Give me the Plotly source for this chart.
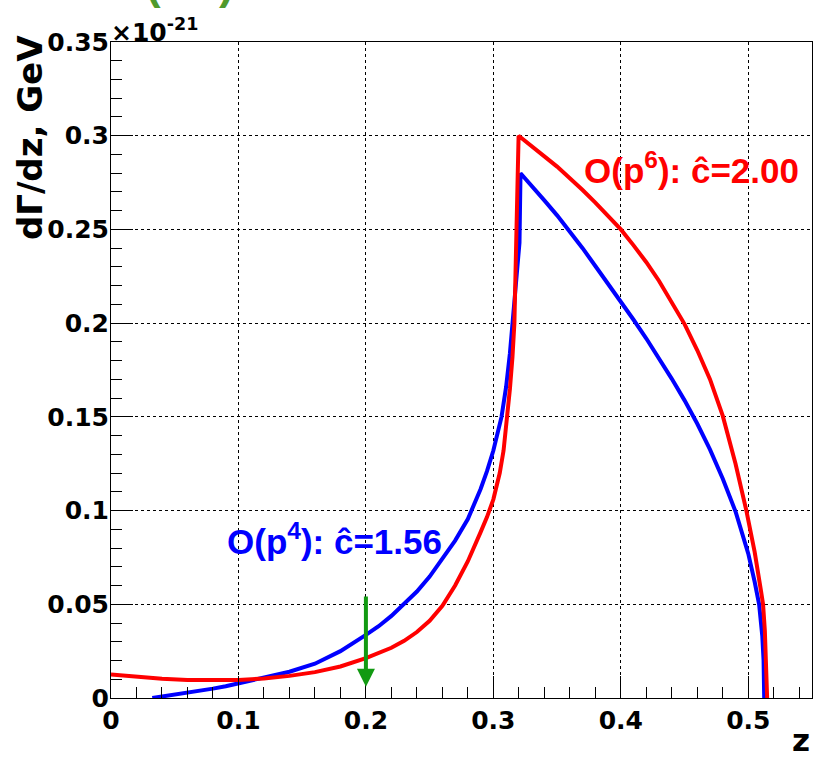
import plotly.graph_objects as go

# ---- data (y in units of 1e-21 GeV) ----
z_p4 = [0.0324, 0.04, 0.05, 0.06, 0.07, 0.08, 0.09, 0.10, 0.12, 0.14, 0.16, 0.18,
        0.20, 0.21, 0.22, 0.23, 0.24, 0.25, 0.26, 0.27, 0.28, 0.29, 0.295, 0.30,
        0.3064, 0.31, 0.313, 0.315, 0.3176, 0.3205, 0.3213,
        0.33, 0.34, 0.35, 0.36, 0.37, 0.38, 0.39, 0.40, 0.41, 0.42, 0.43, 0.44,
        0.45, 0.46, 0.47, 0.48, 0.49, 0.495, 0.50, 0.505, 0.5085, 0.511, 0.512,
        0.5125]
g_p4 = [0.0, 0.0008, 0.0016, 0.0026, 0.0037, 0.005, 0.0063, 0.0078, 0.0105, 0.014,
        0.0183, 0.025, 0.0337, 0.0383, 0.0438, 0.0502, 0.0568, 0.0648, 0.0742,
        0.0840, 0.0955, 0.1115, 0.121, 0.132, 0.150, 0.166, 0.184, 0.200, 0.223,
        0.243, 0.280,
        0.2735, 0.2655, 0.2575, 0.249, 0.2400, 0.2305, 0.2212, 0.2115, 0.2018,
        0.1918, 0.1813, 0.1703, 0.1588, 0.1463, 0.1325, 0.117, 0.0995, 0.089,
        0.077, 0.062, 0.050, 0.033, 0.020, 0.0]

z_p6 = [0.0, 0.02, 0.04, 0.06, 0.08, 0.10, 0.12, 0.14, 0.16, 0.18, 0.20, 0.21,
        0.22, 0.23, 0.24, 0.25, 0.26, 0.27, 0.28, 0.29, 0.295, 0.30, 0.305,
        0.308, 0.311, 0.313, 0.315, 0.3165, 0.3198,
        0.325, 0.33, 0.34, 0.35, 0.36, 0.37, 0.38, 0.39, 0.40, 0.41, 0.42, 0.43,
        0.44, 0.45, 0.46, 0.47, 0.48, 0.49, 0.4985, 0.505, 0.51, 0.5116, 0.513,
        0.514, 0.5148]
g_p6 = [0.0125, 0.0113, 0.0103, 0.0096, 0.0094, 0.0096, 0.0104, 0.0118, 0.0138,
        0.0168, 0.0213, 0.0238, 0.0268, 0.0305, 0.0352, 0.0412, 0.0492, 0.0600,
        0.0730, 0.0885, 0.0965, 0.1060, 0.1200, 0.132, 0.150, 0.165, 0.182, 0.200,
        0.300,
        0.297, 0.2945, 0.289, 0.2835, 0.2775, 0.271, 0.2643, 0.2573, 0.250,
        0.2415, 0.2325, 0.2225, 0.2115, 0.1995, 0.1855, 0.170, 0.1505, 0.125,
        0.100, 0.078, 0.057, 0.050, 0.036, 0.022, 0.0]

x_ticks = [0, 0.1, 0.2, 0.3, 0.4, 0.5]
x_ticktext = ["0", "0.1", "0.2", "0.3", "0.4", "0.5"]
y_ticks = [0, 0.05, 0.1, 0.15, 0.2, 0.25, 0.3, 0.35]
y_ticktext = ["0", "0.05", "0.1", "0.15", "0.2", "0.25", "0.3", "0.35"]

label_p4 = "O(p<sup>4</sup>): \u0109=1.56"
label_p6 = "O(p<sup>6</sup>): \u0109=2.00"
arrow_z = 0.2
arrow_from = 0.055
arrow_to = 0.006

fig = go.Figure()
fig.add_trace(go.Scatter(x=z_p4, y=g_p4, mode="lines",
                         line=dict(color="#0000ff", width=4), showlegend=False))
fig.add_trace(go.Scatter(x=z_p6, y=g_p6, mode="lines",
                         line=dict(color="#ff0000", width=4), showlegend=False))

tickfont = dict(family="DejaVu Sans", size=25, color="black", weight="bold")
axis_common = dict(showline=True, linecolor="black", linewidth=1, mirror=True,
                   ticks="inside", ticklen=22, tickcolor="black", tickwidth=1,
                   showgrid=True, gridcolor="black", gridwidth=1, griddash="dot",
                   zeroline=False, tickfont=tickfont)

fig.update_xaxes(range=[0, 0.55], tickvals=x_ticks, ticktext=x_ticktext,
                 minor=dict(dtick=0.02, ticklen=11, ticks="inside",
                            tickcolor="black", showgrid=False),
                 **axis_common)
fig.update_yaxes(range=[0, 0.35], tickvals=y_ticks, ticktext=y_ticktext,
                 minor=dict(dtick=0.01, ticklen=11, ticks="inside",
                            tickcolor="black", showgrid=False),
                 ticklabelstandoff=-4,
                 **axis_common)

lab_font = dict(family="Liberation Sans", size=35, weight="bold")
fig.add_annotation(x=0.1757, y=0.0850, text=label_p4, showarrow=False,
                   font=dict(color="#0000ff", **lab_font), xanchor="center", yanchor="middle")
fig.add_annotation(x=0.4557, y=0.2830, text=label_p6, showarrow=False,
                   font=dict(color="#ff0000", **lab_font), xanchor="center", yanchor="middle")

# green arrow
fig.add_annotation(x=arrow_z, y=arrow_to, ax=arrow_z, ay=arrow_from,
                   xref="x", yref="y", axref="x", ayref="y", text="",
                   showarrow=True, arrowhead=2, arrowsize=0.9, arrowwidth=4,
                   arrowcolor="#129a12")

# y-axis title
fig.add_annotation(xref="paper", yref="paper", x=-0.1156, y=0.855, text="d\u0393/dz, GeV",
                   textangle=-90, showarrow=False, xanchor="center", yanchor="middle",
                   font=dict(family="DejaVu Sans", size=34, weight="bold", color="black"))
# x-axis title
fig.add_annotation(xref="paper", yref="paper", x=1.0, y=-0.0945, text="z",
                   showarrow=False, xanchor="right", yanchor="bottom",
                   font=dict(family="DejaVu Sans", size=31, weight="bold", color="black"))
# exponent
fig.add_annotation(xref="paper", yref="paper", x=-0.003, y=0.99, text="\u00d710<sup>-21</sup>",
                   showarrow=False, xanchor="left", yanchor="bottom",
                   font=dict(family="DejaVu Sans", size=25, weight="bold", color="black"))
# cut-off green title (only parentheses tails visible)
for xp, ch in [(0.061, "("), (0.165, ")")]:
    fig.add_annotation(xref="paper", yref="paper", x=xp, y=1.0488, text=ch,
                       showarrow=False, xanchor="center", yanchor="bottom",
                       font=dict(family="Liberation Sans", size=44, weight="bold", color="#4f9a2c"))

fig.update_layout(width=816, height=760, margin=dict(l=111, r=4, t=42, b=62),
                  paper_bgcolor="white", plot_bgcolor="white", showlegend=False)

fig.write_html("out.html")
